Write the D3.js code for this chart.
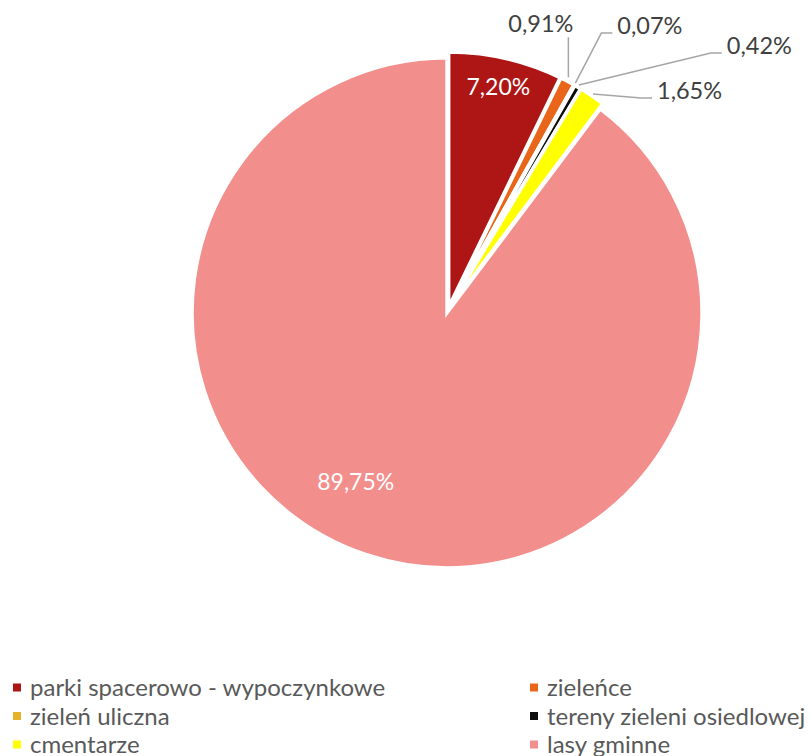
<!DOCTYPE html>
<html>
  <head>
    <meta charset="UTF-8">
    <title>Tereny zieleni</title>
    <style>
      body { margin: 0; background: #fff; }
      svg { display: block; font-family: Lato, "Open Sans", sans-serif; }
    </style>
  </head>
  <body>
    <div id="chart"></div>
    <script src="https://d3js.org/d3.v7.min.js"></script>
    <script>

// data
var categories = ["parki spacerowo - wypoczynkowe", "zieleńce", "zieleń uliczna",
                  "tereny zieleni osiedlowej", "cmentarze", "lasy gminne"];
var shares = [7.20, 0.91, 0.07, 0.42, 1.65, 89.75];
var colors = ["#ae1616", "#e8651a", "#e6b22a", "#0d0d0d", "#ffff00", "#f28e8c"];

// label layout (offsets from slice anchor), not data
var labelLayout = [
  {inside: true,  r: 229, dx: -1,  dy: 0},
  {inside: false, dx: -59, dy: -49, line: "vertical"},
  {inside: false, dx: 43,  dy: -51, line: "elbow"},
  {inside: false, dx: 149, dy: -33, line: "elbow"},
  {inside: false, dx: 65,  dy: 3,   line: "elbow"},
  {inside: true,  r: 181, dx: -35, dy: 0}
];

var width = 810, height = 756;
var cx = 448, cy = 310, radius = 255, explode = 3;

var svg = d3.select("#chart").append("svg")
  .attr("width", width)
  .attr("height", height);

var pie = d3.pie().sort(null).value(function(d){ return d; });
var arcs = pie(shares);
var arc = d3.arc().innerRadius(0).outerRadius(radius);

function mid(d){ return (d.startAngle + d.endAngle) / 2; }
function fmt(v){ return v.toFixed(2).replace(".", ",") + "%"; }

var g = svg.append("g").attr("transform", "translate(" + cx + "," + cy + ")");

// slices, each pushed out a little along its middle angle
g.selectAll("path.slice")
  .data(arcs)
  .enter().append("path")
    .attr("class", "slice")
    .attr("d", arc)
    .attr("fill", function(d, i){ return colors[i]; })
    .attr("stroke", "#fff")
    .attr("stroke-width", 3.5)
    .attr("stroke-linejoin", "miter")
    .attr("transform", function(d){
      var a = mid(d);
      return "translate(" + (explode * Math.sin(a)) + "," + (-explode * Math.cos(a)) + ")";
    });

// labels
arcs.forEach(function(d, i){
  var a = mid(d), lay = labelLayout[i];
  if (lay.inside) {
    var x = lay.r * Math.sin(a) + lay.dx, y = -lay.r * Math.cos(a) + lay.dy;
    g.append("text")
      .attr("x", x).attr("y", y)
      .attr("dy", "0.36em")
      .attr("text-anchor", "middle")
      .attr("fill", "#fff")
      .style("font-size", "23px")
      .text(fmt(shares[i]));
  } else {
    var ax = (radius + explode) * Math.sin(a), ay = -(radius + explode) * Math.cos(a);
    var lx = ax + lay.dx, ly = ay + lay.dy;
    var pts;
    if (lay.line == "vertical") {
      pts = [[ax + 1, ay - 4], [ax + 1, ly + 5]];
    } else {
      pts = [[ax + 1, ay - 2], [lx - 16, ly - 1], [lx - 5, ly - 1]];
    }
    g.append("path")
      .attr("d", d3.line()(pts))
      .attr("fill", "none")
      .attr("stroke", "#a6a6a6")
      .attr("stroke-width", 1.5);
    g.append("text")
      .attr("x", lx).attr("y", ly)
      .attr("fill", "#404040")
      .style("font-size", "23.5px")
      .text(fmt(shares[i]));
  }
});

// legend, two columns
var legend = svg.append("g").attr("class", "legend");
var item = legend.selectAll("g")
  .data(categories)
  .enter().append("g")
    .attr("transform", function(d, i){
      return "translate(" + (i % 2 == 0 ? 13 : 530) + "," + (687.5 + Math.floor(i / 2) * 28.5) + ")";
    });
item.append("rect")
  .attr("x", 0).attr("y", -4)
  .attr("width", 8).attr("height", 8)
  .attr("fill", function(d, i){ return colors[i]; });
item.append("text")
  .attr("x", 17)
  .attr("dy", "0.36em")
  .attr("fill", "#595959")
  .style("font-size", "24px")
  .text(function(d){ return d; });

    </script>
  </body>
</html>
